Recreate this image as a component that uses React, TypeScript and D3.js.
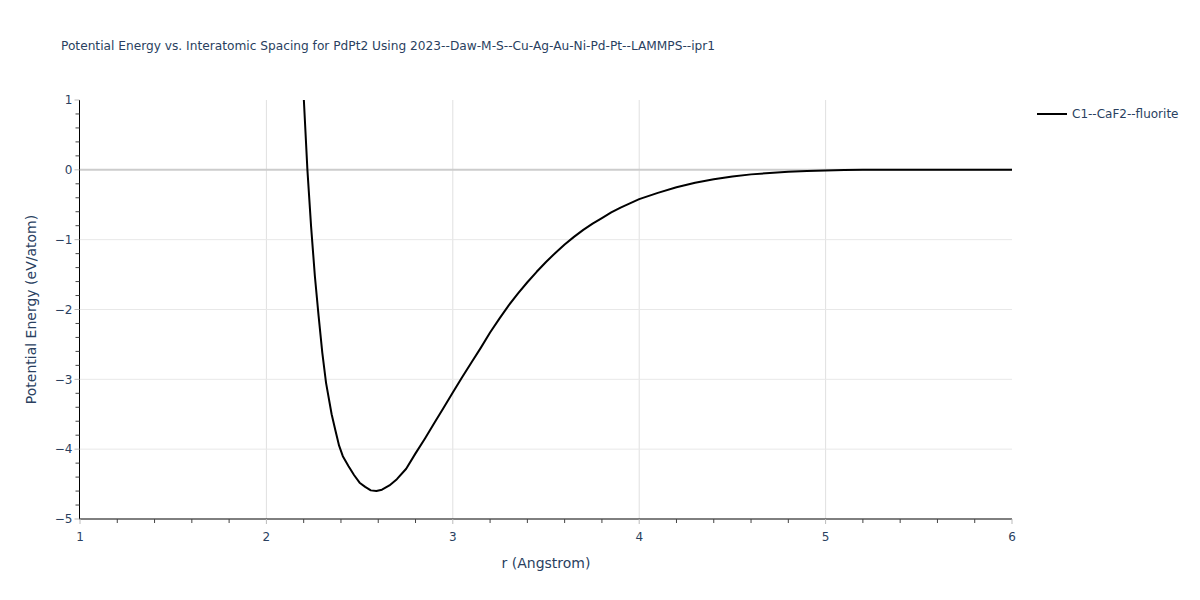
import { useEffect, useRef } from "react";
import * as d3 from "d3";

const rValues = [
  2.19, 2.2, 2.22, 2.24, 2.26, 2.28, 2.3, 2.32, 2.35, 2.37, 2.39, 2.41, 2.44, 2.47, 2.5,
  2.53, 2.56, 2.59, 2.62, 2.66, 2.7, 2.75, 2.8, 2.85, 2.9, 2.95, 3.0, 3.05, 3.1, 3.15,
  3.2, 3.25, 3.3, 3.35, 3.4, 3.45, 3.5, 3.55, 3.6, 3.65, 3.7, 3.75, 3.8, 3.85, 3.9,
  3.95, 4.0, 4.1, 4.2, 4.3, 4.4, 4.5, 4.6, 4.7, 4.8, 4.9, 5.0, 5.1, 5.2, 5.4, 5.6,
  5.8, 6.0,
];
const energyValues = [
  1.6, 1.05, 0.0, -0.82, -1.52, -2.09, -2.62, -3.05, -3.5, -3.73, -3.95, -4.1, -4.24,
  -4.37, -4.48, -4.54, -4.59, -4.6, -4.58, -4.52, -4.43, -4.28, -4.06, -3.85, -3.63,
  -3.41, -3.19, -2.97, -2.76, -2.55, -2.33, -2.13, -1.94, -1.77, -1.61, -1.46, -1.32,
  -1.19, -1.07, -0.96, -0.86, -0.77, -0.69, -0.61, -0.54, -0.48, -0.42, -0.33, -0.25,
  -0.185, -0.135, -0.095, -0.065, -0.045, -0.028, -0.017, -0.009, -0.003, 0, 0, 0, 0, 0,
];
const seriesName = "C1--CaF2--fluorite";
const xTicks = [1, 2, 3, 4, 5, 6];
const yTicks = [1, 0, -1, -2, -3, -4, -5];

const W = 1200;
const H = 600;
const margin = { left: 80, right: 188, top: 100, bottom: 81 };
const font = '"DejaVu Sans", verdana, arial, sans-serif';
const textColor = "#2a3f5f";

export default function App() {
  const ref = useRef<SVGSVGElement>(null);

  useEffect(() => {
    if (!ref.current) return;
    const svg = d3.select(ref.current);
    svg.selectAll("*").remove();

    const x = d3.scaleLinear().domain([1, 6]).range([margin.left, W - margin.right]);
    const y = d3.scaleLinear().domain([-5, 1]).range([H - margin.bottom, margin.top]);

    svg.append("rect").attr("width", W).attr("height", H).attr("fill", "white");

    // grid
    const grid = svg.append("g");
    grid.selectAll("line.vx")
      .data(xTicks.filter((t) => t > 1 && t < 6))
      .join("line")
      .attr("x1", (d) => x(d)).attr("x2", (d) => x(d))
      .attr("y1", y(1)).attr("y2", y(-5))
      .attr("stroke", "#e0e0e0").attr("stroke-width", 1);
    grid.selectAll("line.hy")
      .data(yTicks.filter((t) => t !== 0 && t > -5 && t < 1))
      .join("line")
      .attr("x1", x(1)).attr("x2", x(6))
      .attr("y1", (d) => y(d)).attr("y2", (d) => y(d))
      .attr("stroke", "#e8e8e8").attr("stroke-width", 1);
    // zero line
    svg.append("line")
      .attr("x1", x(1)).attr("x2", x(6))
      .attr("y1", y(0)).attr("y2", y(0))
      .attr("stroke", "#cccccc").attr("stroke-width", 2);

    // curve
    svg.append("clipPath").attr("id", "plot-clip")
      .append("rect")
      .attr("x", x(1)).attr("y", y(1))
      .attr("width", x(6) - x(1)).attr("height", y(-5) - y(1));

    const pts = rValues.map((r, i) => [r, energyValues[i]] as [number, number]);
    const line = d3.line<[number, number]>().x((d) => x(d[0])).y((d) => y(d[1]));
    svg.append("path")
      .datum(pts)
      .attr("clip-path", "url(#plot-clip)")
      .attr("d", line)
      .attr("fill", "none")
      .attr("stroke", "black")
      .attr("stroke-width", 2)
      .attr("stroke-linejoin", "round");

    // x axis
    const xAxis = svg.append("g").attr("transform", `translate(0,${y(-5)})`);
    xAxis.append("line")
      .attr("x1", x(1) - 1).attr("x2", x(6))
      .attr("stroke", "black").attr("stroke-width", 1);
    xAxis.selectAll("line.minor")
      .data(d3.range(1, 6.001, 0.2).filter((v) => Math.abs(v - Math.round(v)) > 0.01))
      .join("line")
      .attr("x1", (d) => x(d)).attr("x2", (d) => x(d))
      .attr("y1", 0).attr("y2", 4)
      .attr("stroke", "#444").attr("stroke-width", 1);
    xAxis.selectAll("line.major")
      .data(xTicks)
      .join("line")
      .attr("x1", (d) => x(d)).attr("x2", (d) => x(d))
      .attr("y1", 0).attr("y2", 5)
      .attr("stroke", "#bbb").attr("stroke-width", 1);
    xAxis.selectAll("text")
      .data(xTicks)
      .join("text")
      .attr("x", (d) => x(d)).attr("y", 22)
      .attr("text-anchor", "middle")
      .attr("font-family", font).attr("font-size", 12)
      .attr("fill", textColor)
      .text((d) => d3.format("d")(d));

    // y axis
    const yAxis = svg.append("g").attr("transform", `translate(${x(1) - 0.5},0)`);
    yAxis.append("line")
      .attr("y1", y(1)).attr("y2", y(-5))
      .attr("stroke", "black").attr("stroke-width", 1);
    yAxis.selectAll("line.minor")
      .data(d3.range(-5, 1.001, 0.2).filter((v) => Math.abs(v - Math.round(v)) > 0.01))
      .join("line")
      .attr("y1", (d) => y(d)).attr("y2", (d) => y(d))
      .attr("x1", 0).attr("x2", -4)
      .attr("stroke", "#444").attr("stroke-width", 1);
    yAxis.selectAll("line.major")
      .data(yTicks)
      .join("line")
      .attr("y1", (d) => y(d)).attr("y2", (d) => y(d))
      .attr("x1", 0).attr("x2", -5)
      .attr("stroke", "#bbb").attr("stroke-width", 1);
    yAxis.selectAll("text")
      .data(yTicks)
      .join("text")
      .attr("x", -7).attr("y", (d) => y(d))
      .attr("dy", "0.35em")
      .attr("text-anchor", "end")
      .attr("font-family", font).attr("font-size", 12)
      .attr("fill", textColor)
      .text((d) => (d < 0 ? "\u2212" + Math.abs(d) : String(d)));

    // titles
    svg.append("text")
      .attr("x", 61).attr("y", 50)
      .attr("font-family", font).attr("font-size", 12.2)
      .attr("fill", textColor)
      .text("Potential Energy vs. Interatomic Spacing for PdPt2 Using 2023--Daw-M-S--Cu-Ag-Au-Ni-Pd-Pt--LAMMPS--ipr1");
    svg.append("text")
      .attr("x", (x(1) + x(6)) / 2).attr("y", 568)
      .attr("text-anchor", "middle")
      .attr("font-family", font).attr("font-size", 14)
      .attr("fill", textColor)
      .text("r (Angstrom)");
    svg.append("text")
      .attr("transform", `translate(36,${(y(1) + y(-5)) / 2}) rotate(-90)`)
      .attr("text-anchor", "middle")
      .attr("font-family", font).attr("font-size", 14)
      .attr("fill", textColor)
      .text("Potential Energy (eV/atom)");

    // legend
    const lg = svg.append("g").attr("transform", "translate(1037,114)");
    lg.append("line")
      .attr("x1", 0).attr("x2", 30)
      .attr("stroke", "black").attr("stroke-width", 2);
    lg.append("text")
      .attr("x", 35).attr("dy", "0.35em")
      .attr("font-family", font).attr("font-size", 12)
      .attr("fill", textColor)
      .text(seriesName);
  }, []);

  return (
    <svg
      ref={ref}
      width={W}
      height={H}
      style={{ position: "absolute", left: 0, top: 0, display: "block" }}
    />
  );
}
